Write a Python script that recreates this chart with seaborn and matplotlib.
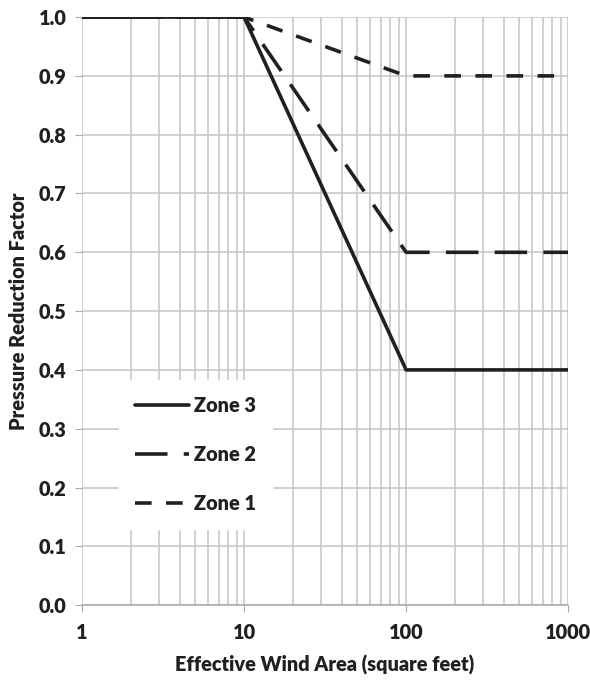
import matplotlib
matplotlib.use("Agg")
import matplotlib.pyplot as plt
import seaborn as sns
import pandas as pd
import numpy as np
from matplotlib.ticker import FixedLocator, NullFormatter

sns.set_style("white")
plt.rcParams['font.family'] = ['Lato', 'DejaVu Sans']
WT = 'heavy'
plt.rcParams['font.weight'] = WT

area = [1, 10, 100, 1000]
zone3 = [1.0, 1.0, 0.4, 0.4]
zone2 = [1.0, 1.0, 0.6, 0.6]
zone1 = [1.0, 1.0, 0.9, 0.9]
series_names = ["Zone 3", "Zone 2", "Zone 1"]
xticks = [1, 10, 100, 1000]
xticklabels = ["1", "10", "100", "1000"]
yticks = [0.0, 0.1, 0.2, 0.3, 0.4, 0.5, 0.6, 0.7, 0.8, 0.9, 1.0]

FS = 14.3
fig = plt.figure(figsize=(5.9, 6.83), dpi=100)
ax = fig.add_axes([0.139, 0.114, 0.824, 0.861])

styles = {
    "Zone 3": "-",
    "Zone 2": (0, (9, 4.5)),
    "Zone 1": (0, (4.6, 4.0)),
}
for name, vals in zip(series_names, [zone3, zone2, zone1]):
    sns.lineplot(x=area, y=vals, ax=ax, color="#231f20", lw=2.6,
                 linestyle=styles[name], label=name, zorder=3)

ax.set_xscale("log")
ax.set_xlim(1, 1000)
ax.set_ylim(0, 1.0)
ax.xaxis.set_major_locator(FixedLocator(xticks))
ax.set_xticklabels(xticklabels)
minor = [m * 10**e for e in range(0, 3) for m in range(2, 10)]
ax.xaxis.set_minor_locator(FixedLocator(minor))
ax.xaxis.set_minor_formatter(NullFormatter())
ax.set_yticks(yticks)
ax.set_yticklabels([f"{v:.1f}" for v in yticks])

ax.grid(True, which="major", color="#c4c4c4", lw=1.1, zorder=0)
ax.grid(True, which="minor", axis="x", color="#c4c4c4", lw=1.1, zorder=0)
for s in ["top", "right", "left"]:
    ax.spines[s].set_visible(False)
ax.spines["bottom"].set_color("#a8a8a8")
ax.spines["bottom"].set_linewidth(1.1)

ax.tick_params(axis="x", which="major", bottom=True, length=5, color="#a8a8a8",
               labelsize=FS, pad=8)
ax.tick_params(axis="x", which="minor", bottom=False)
ax.tick_params(axis="y", left=True, length=5, color="#a8a8a8", labelsize=FS, pad=6)
for lbl in ax.get_xticklabels() + ax.get_yticklabels():
    lbl.set_fontweight(WT)
    lbl.set_color("#231f20")

ax.set_xlabel("Effective Wind Area (square feet)", fontsize=FS, fontweight=WT,
              color="#231f20", labelpad=9)
ax.set_ylabel("Pressure Reduction Factor", fontsize=FS, fontweight=WT,
              color="#231f20", labelpad=8)

leg = ax.legend(loc="lower left", bbox_to_anchor=(0.055, 0.112), frameon=True,
                facecolor="white", edgecolor="white", framealpha=1.0,
                handlelength=2.7, handletextpad=0.25, labelspacing=1.5,
                borderpad=0.83, prop={"size": FS, "weight": WT}, fancybox=False)
leg.set_zorder(5)
for t in leg.get_texts():
    t.set_color("#231f20")

fig.savefig("out.png", dpi=100)
